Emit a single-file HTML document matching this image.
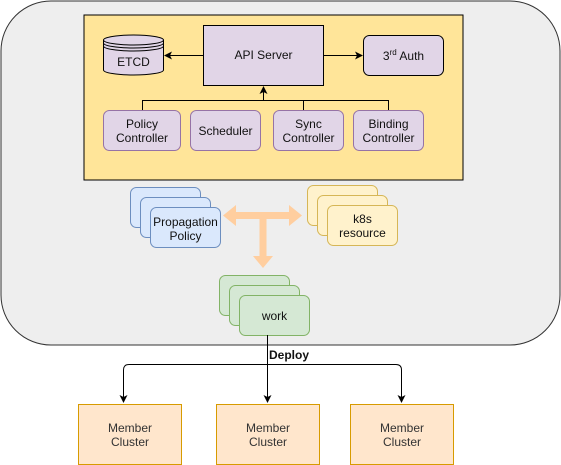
<!DOCTYPE html>
<html><head><meta charset="utf-8"><style>
html,body{margin:0;padding:0;background:#fff;}
svg{display:block;font-family:"Liberation Sans",Arial,sans-serif;}
</style></head><body>
<svg width="561" height="465" viewBox="0 0 561 465" xmlns="http://www.w3.org/2000/svg">
<defs>
<marker id="a" markerWidth="8" markerHeight="8" refX="7" refY="4" orient="auto" markerUnits="userSpaceOnUse"><path d="M0,0 L8,4 L0,8 L2,4 Z" fill="#000"/></marker>
</defs>
<rect x="1" y="1" width="559" height="344" rx="50" fill="#eeeeee" stroke="#333" stroke-width="1"/>
<rect x="84" y="15" width="379" height="165" fill="#ffe599" stroke="#000" stroke-width="1"/>
<!-- API server -->
<rect x="203.5" y="25.5" width="120" height="60" fill="#e1d5e7" stroke="#000"/>
<text x="263.5" y="59" font-size="12" text-anchor="middle" fill="#111">API Server</text>
<!-- ETCD -->
<path d="M103.5,40 L103.5,70 A30,5 0 0 0 163.5,70 L163.5,40" fill="#e1d5e7" stroke="#000"/>
<ellipse cx="133.5" cy="40" rx="30" ry="5" fill="#e1d5e7" stroke="#000"/>
<path d="M103.5,43 A30,5 0 0 0 163.5,43 M103.5,46 A30,5 0 0 0 163.5,46" fill="none" stroke="#000"/>
<text x="133.5" y="66" font-size="12" text-anchor="middle" fill="#111">ETCD</text>
<!-- 3rd Auth -->
<rect x="363.5" y="35.5" width="80" height="40" rx="6" fill="#e1d5e7" stroke="#000"/>
<text x="403.5" y="60" font-size="12" text-anchor="middle" fill="#111">3<tspan font-size="8" dy="-5">rd</tspan><tspan dy="5"> Auth</tspan></text>
<line x1="203.5" y1="55.5" x2="165" y2="55.5" stroke="#000" marker-end="url(#a)"/>
<line x1="323.5" y1="55.5" x2="362" y2="55.5" stroke="#000" marker-end="url(#a)"/>
<!-- bus -->
<path d="M142.5,110 V100.5 H388.5 V110 M303.5,100.5 V110" fill="none" stroke="#000"/>
<line x1="263.5" y1="100.5" x2="263.5" y2="87" stroke="#000" marker-end="url(#a)"/>
<g fill="#e1d5e7" stroke="#9673a6">
<rect x="103.5" y="110.5" width="77" height="40" rx="6"/>
<rect x="190.5" y="110.5" width="70" height="40" rx="6"/>
<rect x="273.5" y="110.5" width="70" height="40" rx="6"/>
<rect x="353.5" y="110.5" width="70" height="40" rx="6"/>
</g>
<g font-size="12" text-anchor="middle" fill="#111">
<text x="142" y="128">Policy</text><text x="142" y="142">Controller</text>
<text x="225.5" y="135">Scheduler</text>
<text x="308.5" y="128">Sync</text><text x="308.5" y="142">Controller</text>
<text x="388.5" y="128">Binding</text><text x="388.5" y="142">Controller</text>
</g>
<!-- propagation -->
<g fill="#dae8fc" stroke="#6c8ebf">
<rect x="130.5" y="187.5" width="70" height="40" rx="6"/>
<rect x="140.5" y="197.5" width="70" height="40" rx="6"/>
<rect x="150.5" y="207.5" width="70" height="40" rx="6"/>
</g>
<text x="185.5" y="226" font-size="12" text-anchor="middle" fill="#111">Propagation</text>
<text x="185.5" y="240" font-size="12" text-anchor="middle" fill="#111">Policy</text>
<g fill="#fff2cc" stroke="#d6b656">
<rect x="307.5" y="185.5" width="70" height="40" rx="6"/>
<rect x="317.5" y="195.5" width="70" height="40" rx="6"/>
<rect x="327.5" y="205.5" width="70" height="40" rx="6"/>
</g>
<text x="362.5" y="223" font-size="12" text-anchor="middle" fill="#111">k8s</text>
<text x="362.5" y="237" font-size="12" text-anchor="middle" fill="#111">resource</text>
<!-- orange arrows -->
<g fill="#ffce9f">
<rect x="234" y="212" width="56" height="7"/>
<rect x="259.5" y="215" width="7" height="42"/>
<polygon points="223,215.5 236,205 236,226"/>
<polygon points="302,215.5 289,205 289,226"/>
<polygon points="263,268 253,256 273,256"/>
</g>
<!-- work -->
<g fill="#d5e8d4" stroke="#82b366">
<rect x="219.5" y="275.5" width="70" height="40" rx="6"/>
<rect x="229.5" y="285.5" width="70" height="40" rx="6"/>
<rect x="239.5" y="295.5" width="70" height="40" rx="6"/>
</g>
<text x="274.5" y="320" font-size="12" text-anchor="middle" fill="#111">work</text>
<!-- deploy -->
<line x1="267.5" y1="335" x2="267.5" y2="402" stroke="#000" marker-end="url(#a)"/>
<path d="M123.5,402 V370 Q123.5,364.5 129,364.5 H396 Q401.5,364.5 401.5,370 V402" fill="none" stroke="#000" marker-end="url(#a)"/>
<line x1="123.5" y1="390" x2="123.5" y2="402" stroke="#000" marker-end="url(#a)"/>
<text x="269" y="359" font-size="12" font-weight="bold" fill="#111">Deploy</text>
<g fill="#ffe6cc" stroke="#d79b00">
<rect x="78.5" y="404.5" width="103" height="60"/>
<rect x="216.5" y="404.5" width="103" height="60"/>
<rect x="350.5" y="404.5" width="103" height="60"/>
</g>
<g font-size="12" text-anchor="middle" fill="#333">
<text x="130" y="432">Member</text><text x="130" y="446">Cluster</text>
<text x="268" y="432">Member</text><text x="268" y="446">Cluster</text>
<text x="402" y="432">Member</text><text x="402" y="446">Cluster</text>
</g>
</svg>
</body></html>
